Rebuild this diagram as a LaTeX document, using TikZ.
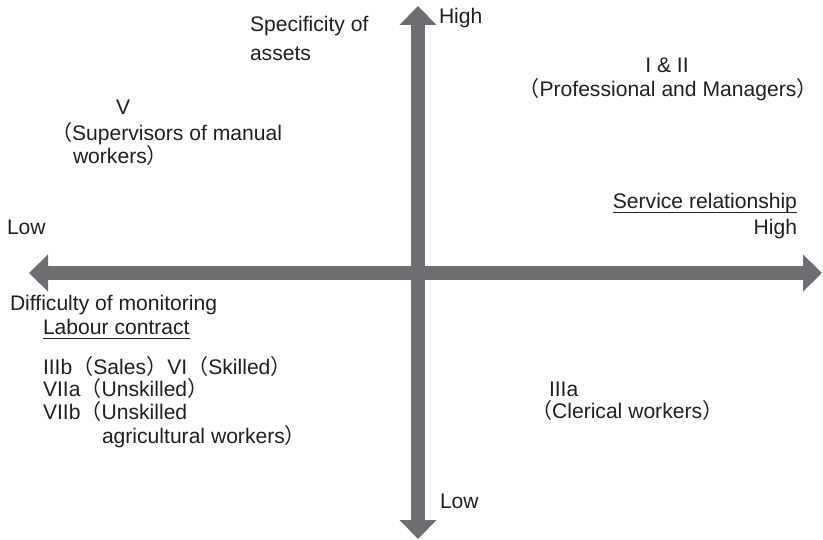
\documentclass[tikz,border=0pt]{standalone}
\usepackage{fontspec}
\setmainfont{Liberation Sans}
\newfontfamily\cjkfont{Noto Sans CJK JP}
\usetikzlibrary{arrows.meta}
% full-width brackets
\newcommand\fwopen{{\cjkfont （}}
\newcommand\fwclose{{\cjkfont ）}}
\definecolor{axisgray}{RGB}{109,110,113}
\definecolor{ink}{RGB}{35,31,32}

\begin{document}
\begin{tikzpicture}[x=1pt,y=-1pt,
  txt/.style={inner sep=0pt, outer sep=0pt, text=ink,
    font=\fontsize{21.1}{25}\selectfont, anchor=base west},
  txtc/.style={txt, anchor=base},
  txtr/.style={txt, anchor=base east},
  axis/.style={draw=axisgray, fill=axisgray, line width=14.5pt,
    {Triangle[length=19pt,width=36pt]}-{Triangle[length=19pt,width=36pt]}},
  uline/.style={draw=ink, line width=0.9pt}]
\useasboundingbox (0,0) rectangle (823,540);

% axes
\coordinate (top) at (418,6);
\coordinate (bottom) at (418,539);
\coordinate (left) at (29,273);
\coordinate (right) at (822,273);
\draw[axis] (bottom) -- (top);
\draw[axis] (left) -- (right);

% axis labels
\node[txt] (hiV) at (439,24) {High};
\node[txt] (spec1) at (250,32) {Specificity of};
\node[txt] (spec2) at (250,61) {assets};
\node[txt] (lowV) at (440,508) {Low};
\node[txt] (lowH) at (7,235) {Low};
\node[txtr] (srv) at (797,209) {Service relationship};
\node[txtr] (hiH) at (797,235) {High};
\node[txt] (diff) at (10,311) {Difficulty of monitoring};
\node[txt] (lab) at (43,335) {Labour contract};
\draw[uline] ([yshift=-3pt]srv.base west) -- ([yshift=-3pt]srv.base east);
\draw[uline] ([yshift=-3pt]lab.base west) -- ([yshift=-3pt]lab.base east);

% class groups
\node[txtc] (c12a) at (667,73) {I \& II};
\node[txtc] (c12b) at (668,97) {\fwopen Professional and Managers\fwclose};
\node[txt] (c5a) at (116,115) {V};
\node[txt] (c5b) at (51,141) {\fwopen Supervisors of manual};
\node[txt] (c5c) at (73,164) {workers\fwclose};
\node[txt] (c3b) at (43,374) {IIIb\fwopen Sales\fwclose VI\fwopen Skilled\fwclose};
\node[txt] (c7a) at (43,397) {VIIa\fwopen Unskilled\fwclose};
\node[txt] (c7b) at (43,420) {VIIb\fwopen Unskilled};
\node[txt] (c7c) at (102,443) {agricultural workers\fwclose};
\node[txt] (c3a) at (549,397) {IIIa};
\node[txt] (c3ab) at (531,419) {\fwopen Clerical workers\fwclose};
\end{tikzpicture}
\end{document}
